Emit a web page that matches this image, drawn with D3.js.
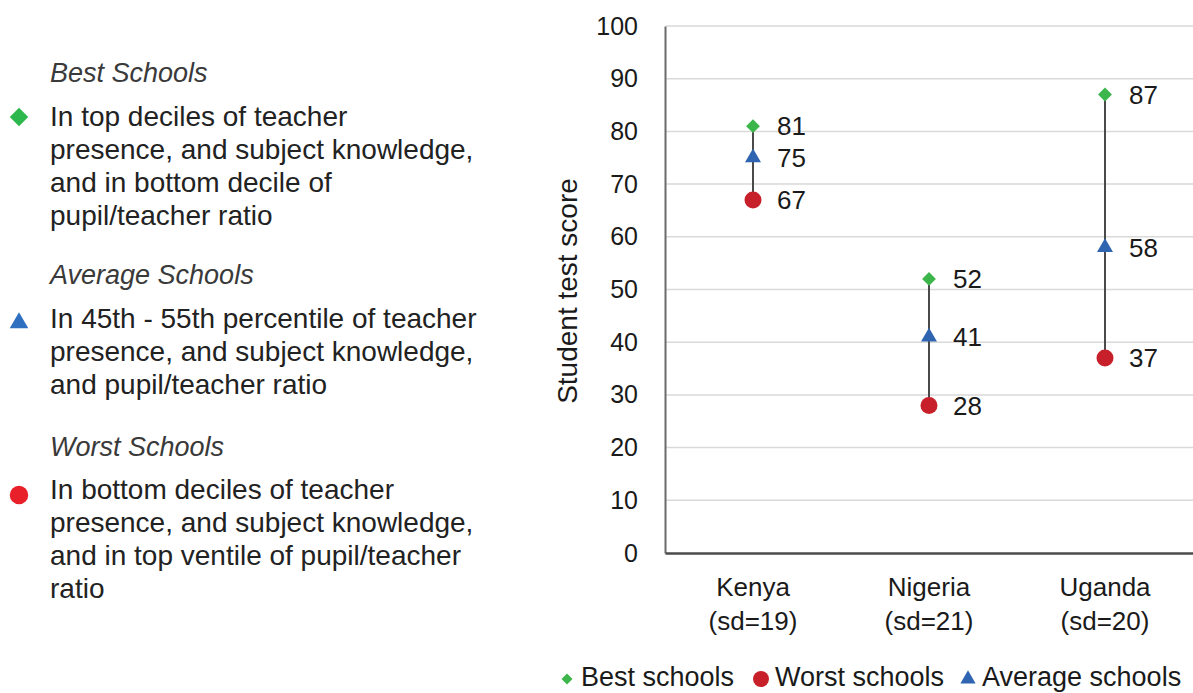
<!DOCTYPE html>
<html><head><meta charset="utf-8">
<script src="https://cdn.jsdelivr.net/npm/d3@7/dist/d3.min.js"></script>
<style>body{margin:0;background:#fff;}svg{display:block;font-family:"Liberation Sans",Arial,sans-serif;}</style>
</head><body>
<script>
const categories = ["Kenya", "Nigeria", "Uganda"];
const sdLabels = ["(sd=19)", "(sd=21)", "(sd=20)"];
const best = [81, 52, 87];
const average = [75, 41, 58];
const worst = [67, 28, 37];
const yTicks = [0,10,20,30,40,50,60,70,80,90,100];
const legendItems = ["Best schools", "Worst schools", "Average schools"];
const leftHeads = ["Best Schools", "Average Schools", "Worst Schools"];
const leftTexts = [
  ["In top deciles of teacher", "presence, and subject knowledge,", "and in bottom decile of", "pupil/teacher ratio"],
  ["In 45th - 55th percentile of teacher", "presence, and subject knowledge,", "and pupil/teacher ratio"],
  ["In bottom deciles of teacher", "presence, and subject knowledge,", "and in top ventile of pupil/teacher", "ratio"]
];

const W = 1193, H = 693;
const GREEN = "#3cb54a", BLUE = "#2e64b0", RED = "#c8202a";
const TXT = "#1a1a1a";
const svg = d3.select("body").append("svg").attr("width", W).attr("height", H);

const x = d3.scaleBand().domain(categories).range([665, 1193]);
const y = d3.scaleLinear().domain([0, 100]).range([553, 26]);

// gridlines
svg.append("g").selectAll("line").data(yTicks.filter(d => d > 0)).join("line")
  .attr("x1", 666).attr("x2", W).attr("y1", d => y(d)).attr("y2", d => y(d))
  .attr("stroke", "#d9d9d9").attr("stroke-width", 1.5);

// y axis
const yAxis = d3.axisLeft(y).tickValues(yTicks).tickSize(0).tickPadding(27);
const gy = svg.append("g").attr("transform", "translate(665,0)").call(yAxis);
gy.select(".domain").attr("stroke", "#6b6b6b").attr("stroke-width", 2);
gy.selectAll("text").attr("font-size", 25).attr("fill", TXT).attr("font-family", "Liberation Sans, Arial, sans-serif");

// x axis
const xAxis = d3.axisBottom(x).tickSize(0).tickFormat(() => "");
const gx = svg.append("g").attr("transform", "translate(0,553)").call(xAxis);
gx.select(".domain").attr("stroke", "#4a4a4a").attr("stroke-width", 2.5);
gx.selectAll(".tick").each(function(d, i) {
  const t = d3.select(this).append("text").attr("text-anchor", "middle")
    .attr("font-size", 26).attr("fill", TXT).attr("font-family", "Liberation Sans, Arial, sans-serif");
  t.append("tspan").attr("x", 0).attr("y", 43).text(d);
  t.append("tspan").attr("x", 0).attr("y", 77).text(sdLabels[i]);
});

// y title
svg.append("text").attr("transform", "translate(577,291) rotate(-90)")
  .attr("text-anchor", "middle").attr("font-size", 28).attr("fill", TXT).text("Student test score");

// vertical ranges
const cx = d => x(d) + x.bandwidth() / 2;
svg.append("g").selectAll("line").data(categories).join("line")
  .attr("x1", cx).attr("x2", cx)
  .attr("y1", (d, i) => y(best[i])).attr("y2", (d, i) => y(worst[i]))
  .attr("stroke", "#4a4a4a").attr("stroke-width", 2);

function drawSeries(vals, shape, size, color, rot) {
  const g = svg.append("g");
  g.selectAll("path").data(categories).join("path")
    .attr("d", d3.symbol().type(shape).size(size)())
    .attr("transform", (d, i) => `translate(${cx(d)},${y(vals[i])}) rotate(${rot})`)
    .attr("fill", color);
  g.selectAll("text").data(categories).join("text")
    .attr("x", d => cx(d) + 24).attr("y", (d, i) => y(vals[i]))
    .attr("dy", "0.36em").attr("font-size", 26).attr("fill", TXT).text((d, i) => vals[i]);
}
drawSeries(worst, d3.symbolCircle, 227, RED, 0);
drawSeries(average, d3.symbolTriangle, 110, BLUE, 0);
drawSeries(best, d3.symbolSquare, 95, GREEN, 45);

// bottom legend
const leg = svg.append("g").attr("font-size", 27).attr("fill", TXT);
const legX = [567, 761, 968];
const legShapes = [[d3.symbolSquare, 60, GREEN, 45], [d3.symbolCircle, 200, RED, 0], [d3.symbolTriangle, 100, BLUE, 0]];
legendItems.forEach((t, i) => {
  const s = legShapes[i];
  leg.append("path").attr("d", d3.symbol().type(s[0]).size(s[1])())
    .attr("transform", `translate(${legX[i]},679) rotate(${s[3]})`).attr("fill", s[2]);
  leg.append("text").attr("x", legX[i] + 14).attr("y", 676).attr("dy", "0.36em").text(t);
});

// left explanation
const left = svg.append("g").attr("font-size", 28).attr("fill", "#222");
const headY = [72, 274, 446];
const firstY = [116, 318, 489];
const leftShapes = [[d3.symbolSquare, 170, "#2db84d", 45], [d3.symbolTriangle, 150, "#2e6fc0", 0], [d3.symbolCircle, 270, "#e8202a", 0]];
const markY = [117, 323, 495];
leftHeads.forEach((h, i) => {
  left.append("text").attr("x", 50).attr("y", headY[i]).attr("dy", "0.36em")
    .attr("font-style", "italic").attr("fill", "#3a3a3a").attr("font-size", 27).text(h);
  const s = leftShapes[i];
  left.append("path").attr("d", d3.symbol().type(s[0]).size(s[1])())
    .attr("transform", `translate(19,${markY[i]}) rotate(${s[3]})`).attr("fill", s[2]);
  leftTexts[i].forEach((line, j) => {
    left.append("text").attr("x", 50).attr("y", firstY[i] + j * 33).attr("dy", "0.36em").text(line);
  });
});
</script>
</body></html>
